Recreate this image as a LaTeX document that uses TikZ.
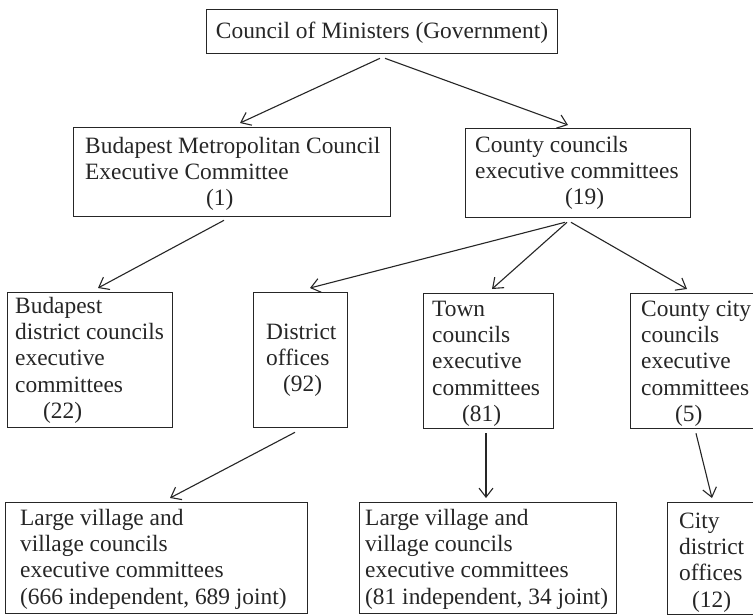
\documentclass[tikz,border=0pt]{standalone}
\usepackage{fontspec}
\setmainfont{Liberation Serif}
\usetikzlibrary{arrows.meta,calc}
\definecolor{ink}{HTML}{262626}
\begin{document}
\begin{tikzpicture}[x=1pt,y=-1pt,
  orgbox/.style={draw=ink, line width=1.3pt, rectangle, inner sep=0pt, anchor=north west},
  boxtext/.style={anchor=north west, inner sep=0pt, align=left, text=ink,
    font=\fontsize{23.4}{26.3}\selectfont},
  link/.style={draw=ink, line width=1.1pt, -{Straight Barb[length=9pt,width=14pt]}}
]
\useasboundingbox (0,0) rectangle (753,616);
\fill[white] (0,0) rectangle (753,616);

% ---- boxes ----
\node[orgbox, minimum width=351pt, minimum height=44pt]  (gov)   at (206,9)   {};
\node[orgbox, minimum width=317pt, minimum height=89pt]  (bud)   at (73,127)  {};
\node[orgbox, minimum width=225pt, minimum height=89pt]  (cty)   at (465,128) {};
\node[orgbox, minimum width=165pt, minimum height=135pt] (bdist) at (7,292)   {};
\node[orgbox, minimum width=94pt,  minimum height=135pt] (doff)  at (253,292) {};
\node[orgbox, minimum width=130pt, minimum height=135pt] (town)  at (423,293) {};
\node[orgbox, minimum width=130pt, minimum height=135pt] (ccity) at (630,293) {};
\node[orgbox, minimum width=302pt, minimum height=111pt] (vill1) at (5,502)   {};
\node[orgbox, minimum width=257pt, minimum height=111pt] (vill2) at (359,502) {};
\node[orgbox, minimum width=100pt, minimum height=112pt] (cdist) at (667,502) {};

% ---- texts ----
\node[boxtext, anchor=base] (govt) at (382,38) {Council of Ministers (Government)};
\node[boxtext] (budt) at (85,134.5)
  {\strut Budapest Metropolitan Council\\Executive Committee\\\hspace*{121pt}(1)};
\node[boxtext] (ctyt) at (475,133.5)
  {\strut County councils\\executive committees\\\hspace*{90pt}(19)};
\node[boxtext] (bdistt) at (15,294.5)
  {\strut Budapest\\district councils\\executive\\committees\\\hspace*{28pt}(22)};
\node[boxtext] (dofft) at (266,320.5)
  {\strut District\\offices\\\hspace*{17pt}(92)};
\node[boxtext] (townt) at (432,297.5)
  {\strut Town\\councils\\executive\\committees\\\hspace*{30pt}(81)};
\node[boxtext] (ccityt) at (641,297.5)
  {\strut County city\\councils\\executive\\committees\\\hspace*{34pt}(5)};
\node[boxtext] (cdistt) at (679,509.5)
  {\strut City\\district\\offices\\\hspace*{13pt}(12)};
\node[boxtext] (vill1t) at (20,506.5)
  {\strut Large village and\\village councils\\executive committees\\(666 independent, 689 joint)};
\node[boxtext] (vill2t) at (365,506.5)
  {\strut Large village and\\village councils\\executive committees\\(81 independent, 34 joint)};

% ---- connectors ----
\draw[link] ($(gov.south west)+(174,4)$)   -- ($(bud.north west)+(167,-4)$);
\draw[link] ($(gov.south west)+(179,4)$)   -- ($(cty.north west)+(103,-3)$);
\draw[link] ($(bud.south west)+(151,3)$)   -- ($(bdist.north west)+(91,-4)$);
\draw[link] ($(cty.south west)+(100,4)$)   -- ($(doff.north west)+(57,-4)$);
\draw[link] ($(cty.south west)+(102,4)$)   -- ($(town.north west)+(69,-4)$);
\draw[link] ($(cty.south west)+(106,4)$)   -- ($(ccity.north west)+(57,-4)$);
\draw[link] ($(doff.south west)+(42,4)$)   -- ($(vill1.north west)+(165,-4)$);
\draw[link] ($(town.south west)+(63,4)$)   -- ($(vill2.north west)+(127,-4)$);
\draw[link] ($(ccity.south west)+(66,4)$)  -- ($(cdist.north west)+(45,-4)$);
\end{tikzpicture}
\end{document}
